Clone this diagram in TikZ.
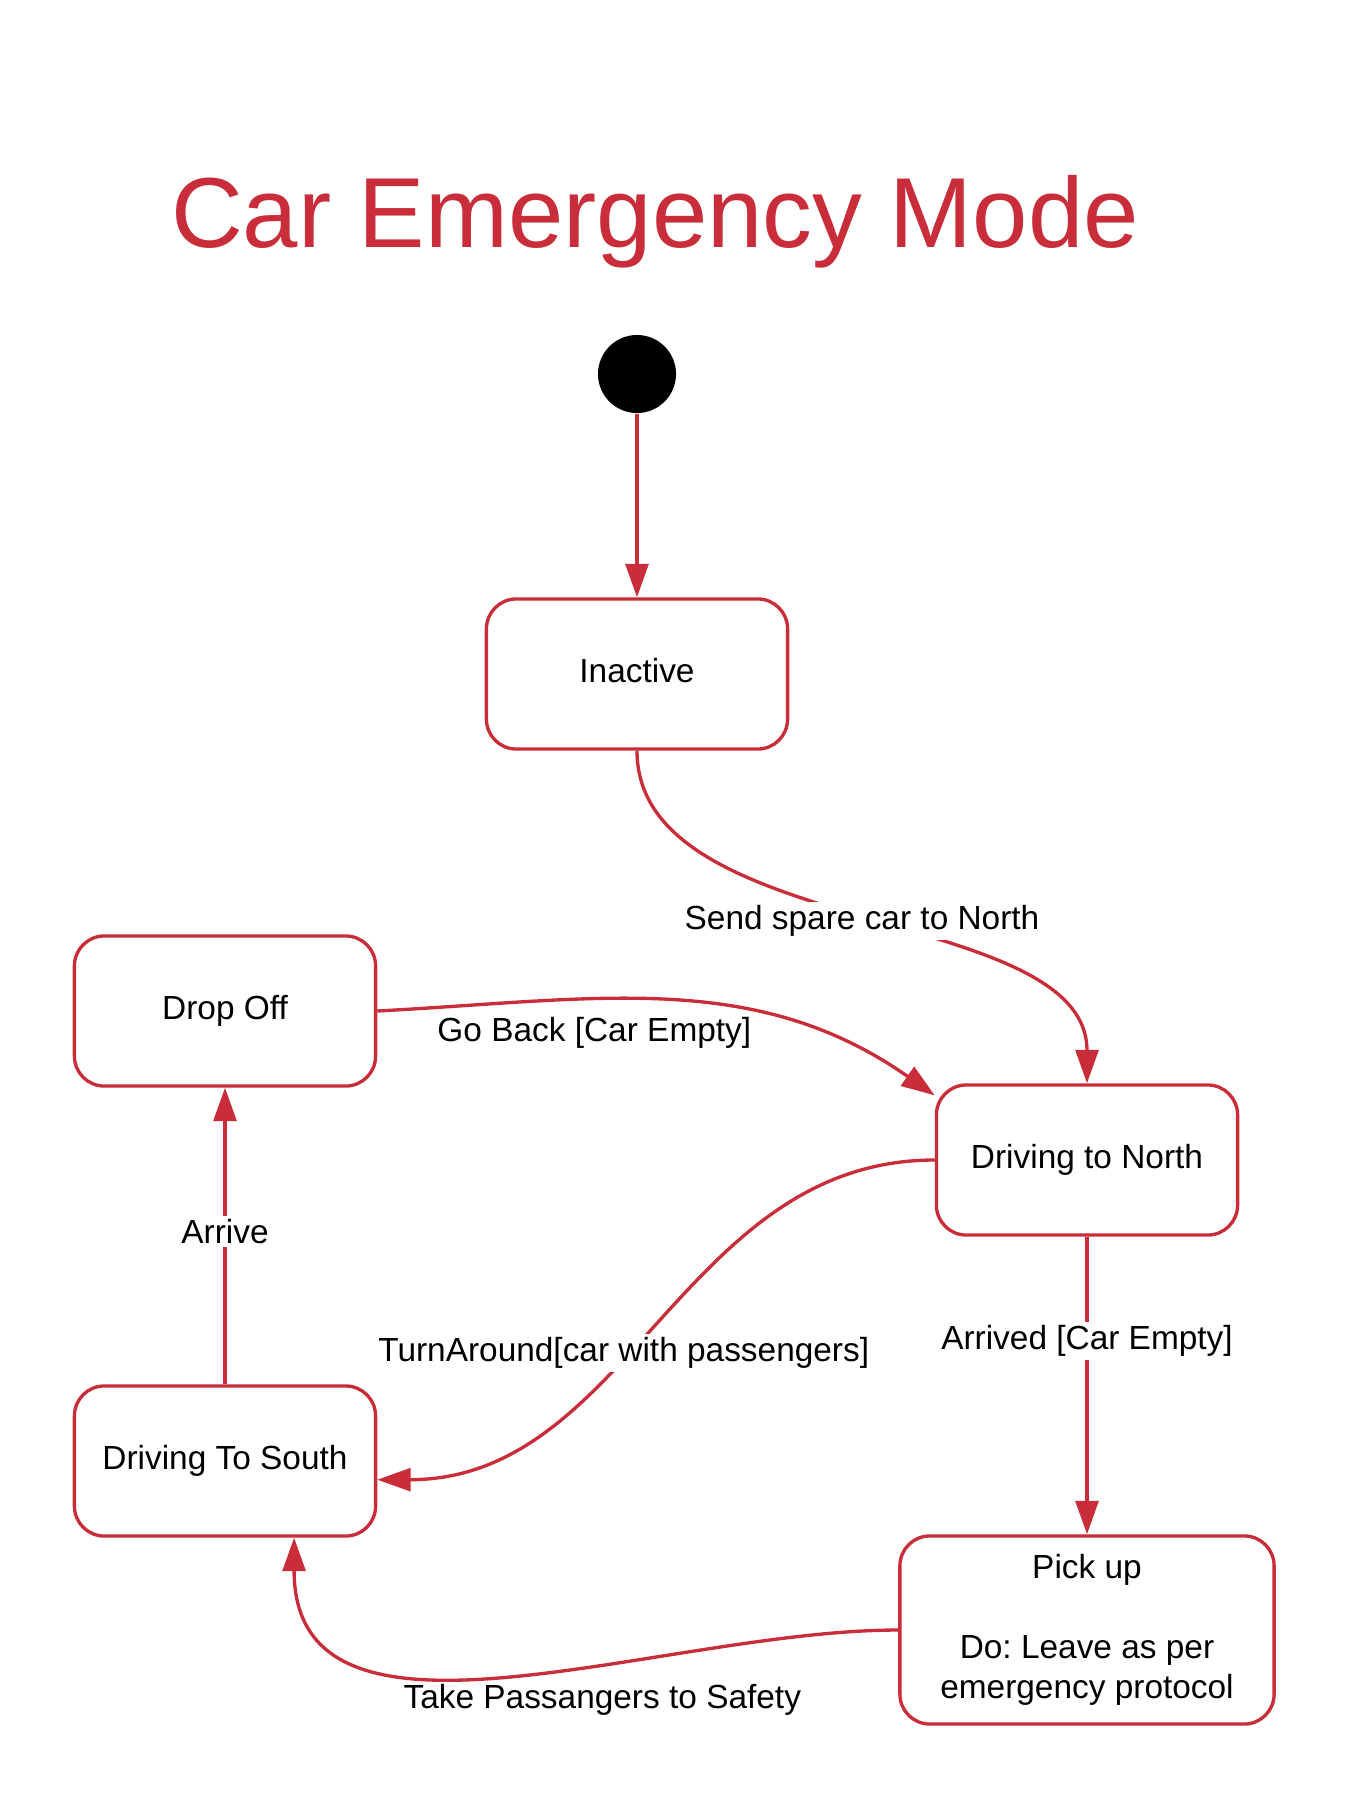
\documentclass[tikz,border=0pt]{standalone}
\usepackage{fontspec}
\setmainfont{Liberation Sans}
\usetikzlibrary{arrows.meta}
\definecolor{lucidred}{HTML}{C92D39}

\begin{document}
\begin{tikzpicture}[x=0.01cm, y=-0.01cm,
    state/.style={draw=lucidred, line width=0.95pt, rounded corners=8.5pt, minimum width=3.01cm, minimum height=1.5cm, align=center, font=\fontsize{9.5}{11.4}\selectfont},
    trans/.style={draw=lucidred, line width=0.95pt, -{Triangle[length=9.5pt,width=6.5pt]}},
    lbl/.style={font=\fontsize{9.5}{11.4}\selectfont, fill=white, inner sep=1pt},
    lblfree/.style={font=\fontsize{9.5}{11.4}\selectfont, inner sep=1pt}]

      \useasboundingbox (0,0) rectangle (1350,1800);

      \node[lucidred, font=\fontsize{28.3}{34}\selectfont, anchor=base] (title) at (655,248) {Car Emergency Mode};

      \node[circle, fill=black, minimum size=0.78cm, inner sep=0pt] (start) at (637,374) {};
      \node[state, text depth=0.21em] (inactive) at (637,674) {Inactive};
      \node[state] (dnorth) at (1087,1160) {Driving to North};
      \node[state] (dropoff) at (225,1011) {Drop Off};
      \node[state] (dsouth) at (225,1461) {Driving To South};
      \node[state, minimum width=3.74cm, minimum height=1.88cm] (pickup) at (1087,1630) {Pick up\\[11.4pt]Do:\ Leave as per\\emergency protocol};

      \draw[trans] (start) -- (inactive.north);
      \draw[trans] (inactive.south) .. controls +(0,190) and +(0,-180) .. node[lbl, pos=0.5] {Send spare car to North} (dnorth.north);
      \draw[trans] (dropoff.east) to[out=3, in=145] node[lblfree, pos=0.36, below=3.5pt] {Go Back [Car Empty]} (dnorth.157);
      \draw[trans] (dnorth.west) to[out=180, in=0] node[lbl, pos=0.57] {TurnAround[car with passengers]} (dsouth.-7);
      \draw[trans] (dnorth.south) -- node[lbl, pos=0.35] {Arrived [Car Empty]} (pickup.north);
      \draw[trans] (pickup.west) to[out=180, in=-90] node[lblfree, pos=0.375, below=4.5pt] {Take Passangers to Safety} (dsouth.-48);
      \draw[trans] (dsouth.north) -- node[lbl, pos=0.515] {Arrive} (dropoff.south);

    \end{tikzpicture}
\end{document}
